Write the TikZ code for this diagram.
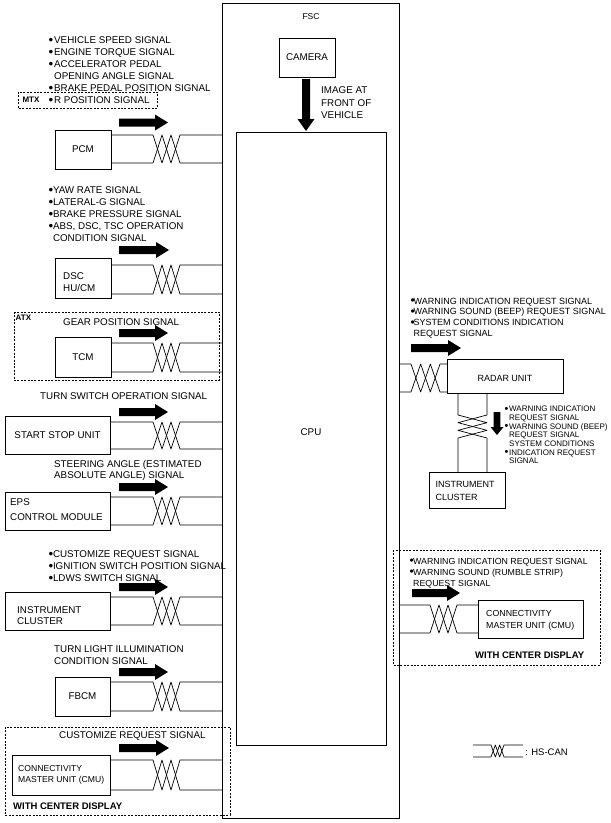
\documentclass[tikz,border=0pt]{standalone}
\usepackage{fontspec}
\setmainfont{Liberation Sans}
\newcommand\fs[2]{\fontsize{#1}{#2}\selectfont}
\newcommand\bu[1]{\makebox[#1][l]{\raisebox{-0.12ex}{\scalebox{1.35}{•}}}}
\tikzset{
  box/.style={draw, line width=0.9pt, inner sep=0, outer sep=0},
  lbl/.style={inner sep=0, font=\fs{9.8}{12}},
  txt/.style={inner sep=0, anchor=north west, align=left},
  dbox/.style={draw, line width=0.8pt, dash pattern=on 2pt off 1.4pt},
  wire/.style={line width=0.7pt, line join=round},
}
% box node from corners: name, x1, y1, x2, y2
\newcommand\ubox[5]{%
  \pgfmathsetmacro\bw{#4-#2}\pgfmathsetmacro\bh{#5-#3}%
  \pgfmathsetmacro\bx{(#2+#4)/2}\pgfmathsetmacro\by{(#3+#5)/2}%
  \node[box, minimum width=\bw pt, minimum height=\bh pt] (#1) at (\bx,\by) {};}
% horizontal twisted pair: from anchor, to anchor, ytop, ybot, x1, x2
\newcommand\canh[6]{%
  \coordinate (cT) at (0,#3); \coordinate (cB) at (0,#4);
  \pgfmathsetmacro\za{#5+(#6-#5)/3}\pgfmathsetmacro\zb{#5+2*(#6-#5)/3}%
  \draw[wire] (#1 |- cT) -- (#5,#3) -- (\za,#4) -- (\zb,#3) -- (#6,#4) -- (#2 |- cB);
  \draw[wire] (#1 |- cB) -- (#5,#4) -- (\za,#3) -- (\zb,#4) -- (#6,#3) -- (#2 |- cT);}
% vertical twisted pair: from anchor, to anchor, xleft, xright, y1, y2
\newcommand\canv[6]{%
  \coordinate (cL) at (#3,0); \coordinate (cR) at (#4,0);
  \pgfmathsetmacro\za{#5+(#6-#5)/3}\pgfmathsetmacro\zb{#5+2*(#6-#5)/3}%
  \draw[wire] (#1 -| cL) -- (#3,#5) -- (#4,\za) -- (#3,\zb) -- (#4,#6) -- (#2 -| cR);
  \draw[wire] (#1 -| cR) -- (#4,#5) -- (#3,\za) -- (#4,\zb) -- (#3,#6) -- (#2 -| cL);}
% thick horizontal arrow: tail x, tip x, y
\newcommand\harr[3]{%
  \fill (#1,#3-4) -- (#2-13,#3-4) -- (#2-13,#3-8) -- (#2,#3) -- (#2-13,#3+8) -- (#2-13,#3+4) -- (#1,#3+4) -- cycle;}
% thick vertical arrow: x, tail y, tip y, shaft half, head half, head length
\newcommand\varr[6]{%
  \fill (#1-#4,#2) -- (#1-#4,#3-#6) -- (#1-#5,#3-#6) -- (#1,#3) -- (#1+#5,#3-#6) -- (#1+#4,#3-#6) -- (#1+#4,#2) -- cycle;}
\begin{document}
\begin{tikzpicture}[x=1pt,y=-1pt]
\useasboundingbox[fill=white] (0,0) rectangle (611,823);

% ---- FSC ----
\ubox{fsc}{222}{3}{399}{818}
\node[inner sep=0, font=\fs{8.5}{10}] (fscT) at (311,17) {FSC};
\ubox{cam}{279}{38}{335}{77}
\node[lbl] (camT) at (cam) {CAMERA};
\ubox{cpu}{236}{132}{386}{745}
\node[lbl] (cpuT) at (311,432) {CPU};
\varr{306}{79}{131}{4}{8.5}{12}
\node[txt, font=\fs{9.8}{12.5}] (imgT) at (321,86.5) {IMAGE AT\\FRONT OF\\VEHICLE};

% ---- PCM ----
\node[txt, font=\fs{9.8}{12}] (pcmL) at (48.5,36.5) {\bu{5.5pt}VEHICLE SPEED SIGNAL\\\bu{5.5pt}ENGINE TORQUE SIGNAL\\\bu{5.5pt}ACCELERATOR PEDAL\\\hspace*{5.5pt}OPENING ANGLE SIGNAL\\\bu{5.5pt}BRAKE PEDAL POSITION SIGNAL\\\bu{5.5pt}R POSITION SIGNAL};
\draw[dbox] (18,92) rectangle (157,108);
\node[inner sep=0, font=\bfseries\fs{8}{10}] (mtx) at (31,100) {MTX};
\harr{119}{168}{122.5}
\ubox{pcm}{55}{130}{111}{169}
\node[lbl] (pcmT) at (pcm) {PCM};
\canh{pcm.east}{fsc.west}{135}{163}{153}{180}

% ---- DSC ----
\node[txt, font=\fs{9.8}{12}] (dscL) at (48.5,186.5) {\bu{4.3pt}YAW RATE SIGNAL\\\bu{4.3pt}LATERAL-G SIGNAL\\\bu{4.3pt}BRAKE PRESSURE SIGNAL\\\bu{4.3pt}ABS, DSC, TSC OPERATION\\\hspace*{4.3pt}CONDITION SIGNAL};
\harr{119}{169}{250}
\ubox{dsc}{55}{258}{111}{298}
\node[txt, font=\fs{9.8}{12.3}] (dscT) at (63,272.5) {DSC\\HU/CM};
\canh{dsc.east}{fsc.west}{265}{294}{153}{180}

% ---- TCM ----
\draw[dbox] (14,312) rectangle (219,380);
\node[inner sep=0, anchor=west, font=\bfseries\fs{8}{10}] (atx) at (15.5,317.5) {ATX};
\node[lbl, anchor=west] (tcmL) at (63,322) {GEAR POSITION SIGNAL};
\harr{119}{168}{333}
\ubox{tcm}{55}{337}{111}{377}
\node[lbl] (tcmT) at (tcm) {TCM};
\canh{tcm.east}{fsc.west}{343}{372}{153}{180}

% ---- START STOP UNIT ----
\node[lbl, anchor=west] (ssuL) at (40,396) {TURN SWITCH OPERATION SIGNAL};
\harr{119}{168}{412}
\ubox{ssu}{5}{416}{110}{454}
\node[lbl] (ssuT) at (57.5,435) {START STOP UNIT};
\canh{ssu.east}{fsc.west}{422}{449}{153}{180}

% ---- EPS ----
\node[txt, font=\fs{9.8}{11}] (epsL) at (54,460.5) {STEERING ANGLE (ESTIMATED\\ABSOLUTE ANGLE) SIGNAL};
\harr{119}{168}{487}
\ubox{eps}{5}{492}{110}{530}
\node[txt, font=\fs{9.8}{15}] (epsT) at (10,498.5) {EPS\\CONTROL MODULE};
\canh{eps.east}{fsc.west}{497}{525}{153}{180}

% ---- INSTRUMENT CLUSTER (left) ----
\node[txt, font=\fs{9.8}{12}] (iclL) at (48.5,550.5) {\bu{4.3pt}CUSTOMIZE REQUEST SIGNAL\\\bu{4.3pt}IGNITION SWITCH POSITION SIGNAL\\\bu{4.3pt}LDWS SWITCH SIGNAL};
\harr{119}{168}{587}
\ubox{icl}{5}{592}{110}{630}
\node[txt, font=\fs{9.8}{11}] (iclT) at (17,606.5) {INSTRUMENT\\CLUSTER};
\canh{icl.east}{fsc.west}{597}{625}{153}{180}

% ---- FBCM ----
\node[txt, font=\fs{9.8}{12}] (fbcmL) at (54,645.5) {TURN LIGHT ILLUMINATION\\CONDITION SIGNAL};
\harr{119}{168}{672}
\ubox{fbcm}{55}{677}{110}{716}
\node[lbl] (fbcmT) at (fbcm) {FBCM};
\canh{fbcm.east}{fsc.west}{682}{711}{153}{180}

% ---- CMU (left) ----
\draw[dbox] (5,727) rectangle (230,815);
\node[lbl, anchor=west] (cmulL) at (59,736) {CUSTOMIZE REQUEST SIGNAL};
\harr{119}{169}{748}
\ubox{cmul}{12}{755}{110}{795}
\node[txt, font=\fs{8.6}{11}] (cmulT) at (18,765) {CONNECTIVITY\\MASTER UNIT (CMU)};
\canh{cmul.east}{fsc.west}{760}{790}{153}{180}
\node[inner sep=0, anchor=west, font=\bfseries\fs{9.5}{11}] (wcdl) at (13,806) {WITH CENTER DISPLAY};

% ---- RADAR UNIT ----
\node[txt, font=\fs{9}{10.7}] (radL) at (410.5,297.8) {\bu{3pt}WARNING INDICATION REQUEST SIGNAL\\\bu{3pt}WARNING SOUND (BEEP) REQUEST SIGNAL\\\bu{3pt}SYSTEM CONDITIONS INDICATION\\\hspace*{3pt}REQUEST SIGNAL};
\harr{411}{461}{348}
\ubox{radar}{447}{359}{563}{393}
\node[inner sep=0, font=\fs{9}{11}] (radT) at (505,378) {RADAR UNIT};
\canh{fsc.east}{radar.west}{364}{392}{411}{440}

% ---- INSTRUMENT CLUSTER (right) ----
\ubox{icr}{429}{472}{505}{508}
\node[txt, font=\fs{9}{13}] (icrT) at (435.5,480.8) {INSTRUMENT\\CLUSTER};
\canv{radar.south}{icr.north}{458}{487}{415}{438}
\varr{497}{412}{435}{3.3}{6.5}{8}
\node[txt, font=\fs{8}{8.7}] (icrL) at (504.5,406) {\bu{4.5pt}WARNING INDICATION\\\hspace*{4.5pt}REQUEST SIGNAL\\\bu{4.5pt}WARNING SOUND (BEEP)\\\hspace*{4.5pt}REQUEST SIGNAL\\\hspace*{4.5pt}SYSTEM CONDITIONS\\\bu{4.5pt}INDICATION REQUEST\\\hspace*{4.5pt}SIGNAL};

% ---- CMU (right) ----
\draw[dbox] (393,550) rectangle (600,665);
\node[txt, font=\fs{8.8}{11}] (cmurL) at (409.5,557.8) {\bu{3.5pt}WARNING INDICATION REQUEST SIGNAL\\\bu{3.5pt}WARNING SOUND (RUMBLE STRIP)\\\hspace*{3.5pt}REQUEST SIGNAL};
\harr{412}{460}{593}
\ubox{cmur}{478}{600}{583}{638}
\node[txt, font=\fs{8.8}{12}] (cmurT) at (486,609.8) {CONNECTIVITY\\MASTER UNIT (CMU)};
\canh{fsc.east}{cmur.west}{605}{633}{430}{457}
\node[inner sep=0, anchor=west, font=\bfseries\fs{9.5}{11}] (wcdr) at (475,655) {WITH CENTER DISPLAY};

% ---- legend ----
\coordinate (lgA) at (473,751);
\coordinate (lgB) at (523,751);
\canh{lgA}{lgB}{745}{757}{491}{504}
\node[inner sep=0, anchor=west, font=\fs{9.5}{11}] (lgT) at (525,752) {: HS-CAN};
\end{tikzpicture}
\end{document}
